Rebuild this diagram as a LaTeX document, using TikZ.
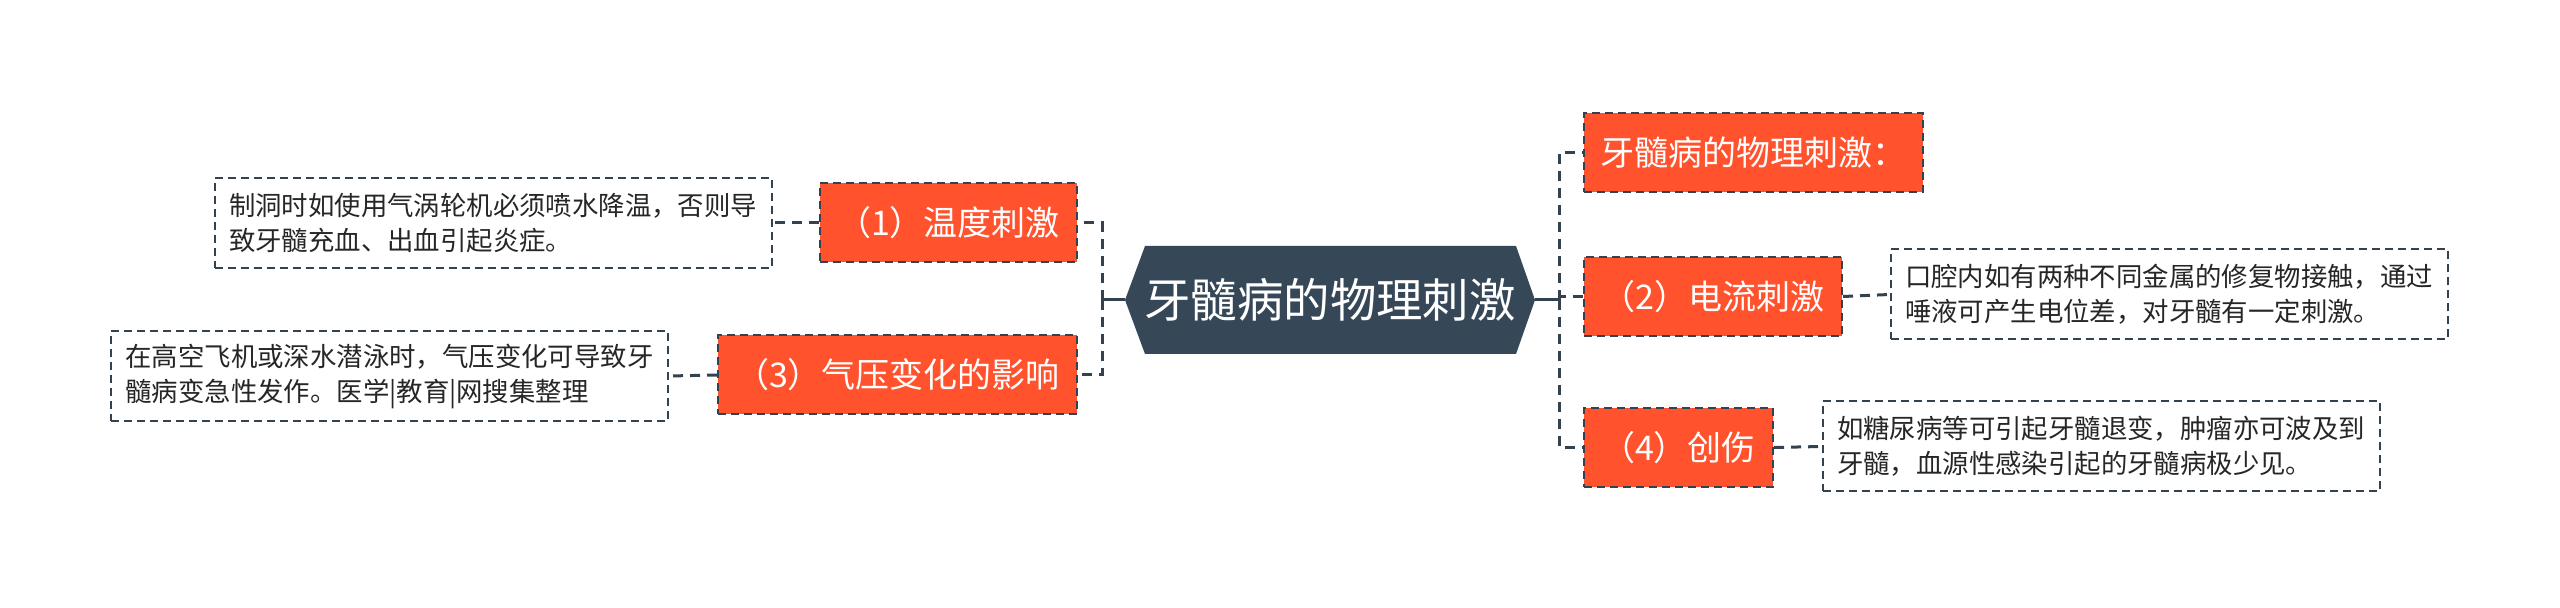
\documentclass[tikz,border=0pt]{standalone}
\usepackage{fontspec}
\setmainfont{Noto Sans CJK SC}
\definecolor{slate}{RGB}{54,72,88}
\definecolor{orng}{RGB}{255,82,45}
\definecolor{lin}{RGB}{52,66,80}
\tikzset{
  conn/.style={draw=lin, line width=1.5pt, dash pattern=on 5pt off 3.5pt},
  stub/.style={draw=lin, line width=1.5pt},
  topic/.style={fill=orng, draw=lin, line width=1pt, dash pattern=on 4pt off 2.5pt,
    text=white, font=\fontsize{17pt}{20pt}\selectfont, inner sep=0pt, minimum height=39.5pt},
  desc/.style={fill=white, draw=lin, line width=1pt, dash pattern=on 4pt off 2.5pt,
    text=black!85, font=\fontsize{13.2pt}{17.5pt}\selectfont, align=left, inner sep=0pt,
    minimum width=278.5pt, minimum height=45pt},
}
\begin{document}
\begin{tikzpicture}[x=0.5pt,y=-0.5pt]
\useasboundingbox (0,0) rectangle (2560,608);
% central hexagon
\fill[slate] (1125,300) -- (1145,246) -- (1516,246) -- (1535,300) -- (1516,354) -- (1145,354) -- cycle;
\node[inner sep=0pt, minimum width=205pt, minimum height=54pt, text=white,
  font=\fontsize{23.2pt}{26pt}\selectfont] (c) at (1330,300) {牙髓病的物理刺激};
% right topics
\node[topic, minimum width=169.5pt] (r1) at (1753.5,152.5) {牙髓病的物理刺激：};
\node[topic, minimum width=129pt] (r2) at (1713,296.5) {（2）电流刺激};
\node[topic, minimum width=94.5pt] (r4) at (1678.5,447.5) {（4）创伤};
% left topics
\node[topic, minimum width=128.5pt] (l1) at (948.5,223) {（1）温度刺激};
\node[topic, minimum width=179.5pt] (l3) at (897.5,375) {（3）气压变化的影响};
% descriptions
\node[desc] (d2) at (2169,294.5) {口腔内如有两种不同金属的修复物接触，通过\\唾液可产生电位差，对牙髓有一定刺激。};
\node[desc] (d4) at (2101,446.5) {如糖尿病等可引起牙髓退变，肿瘤亦可波及到\\牙髓，血源性感染引起的牙髓病极少见。};
\node[desc] (d1) at (493,223) {制洞时如使用气涡轮机必须喷水降温，否则导\\致牙髓充血、出血引起炎症。};
\node[desc] (d3) at (389.5,376) {在高空飞机或深水潜泳时，气压变化可导致牙\\髓病变急性发作。医学|教育|网搜集整理};
% junctions
\coordinate (jl) at (1102,300);
\coordinate (jr) at (1559,300);
\draw[stub] (c.west) -- (jl);
\draw[stub] (c.east) -- (jr);
\draw[conn] (jl) |- (l1.east);
\draw[conn] (jl) |- (l3.east);
\draw[conn] (jr) |- (r1.west);
\draw[conn] (jr) |- (r2.west);
\draw[conn] (jr) |- (r4.west);
\draw[conn] (l1.west) -- (d1.east);
\draw[conn] (l3.west) -- (d3.east);
\draw[conn] (r2.east) -- (d2.west);
\draw[conn] (r4.east) -- (d4.west);
\end{tikzpicture}
\end{document}
